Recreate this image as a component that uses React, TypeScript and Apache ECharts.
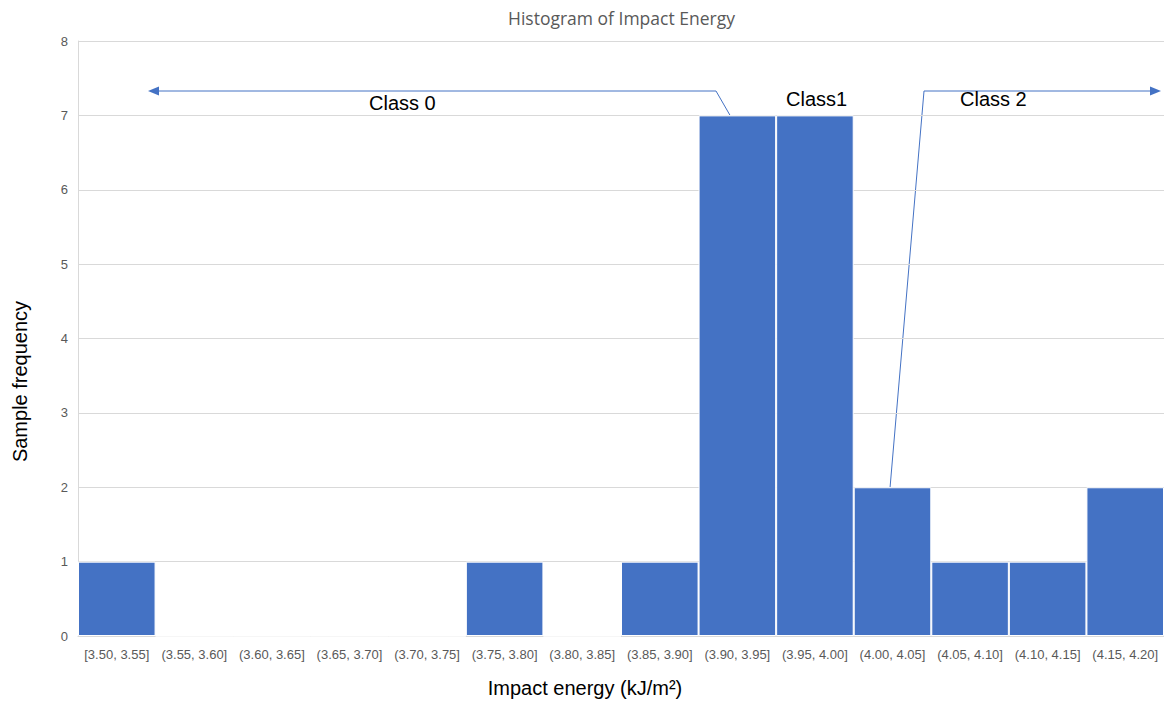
import React, { useEffect, useRef } from "react";
import * as echarts from "echarts";

// Histogram bins (kJ/m²) and the number of samples in each
const binLabels = [
  "[3.50, 3.55]",
  "(3.55, 3.60]",
  "(3.60, 3.65]",
  "(3.65, 3.70]",
  "(3.70, 3.75]",
  "(3.75, 3.80]",
  "(3.80, 3.85]",
  "(3.85, 3.90]",
  "(3.90, 3.95]",
  "(3.95, 4.00]",
  "(4.00, 4.05]",
  "(4.05, 4.10]",
  "(4.10, 4.15]",
  "(4.15, 4.20]",
];
const frequencies = [1, 0, 0, 0, 0, 1, 0, 1, 7, 7, 2, 1, 1, 2];
const yTicks = [0, 1, 2, 3, 4, 5, 6, 7, 8];

const BAR_COLOR = "#4472C4";
const LINE_COLOR = "#4472C4";
const SANS = "Liberation Sans, Arial, sans-serif";

export default function App() {
  const ref = useRef<HTMLDivElement>(null);

  useEffect(() => {
    if (!ref.current) return;
    const chart = echarts.init(ref.current, null, { renderer: "svg" });

    const arrowLine = { stroke: LINE_COLOR, lineWidth: 1, fill: null };
    const arrowHead = { fill: LINE_COLOR };
    const labelStyle = { fill: "#000000", fontSize: 20, fontFamily: SANS };

    chart.setOption({
      animation: false,
      backgroundColor: "#ffffff",
      title: {
        text: "Histogram of Impact Energy",
        left: 503,
        top: 4,
        textStyle: {
          color: "#595959",
          fontSize: 17.5,
          fontWeight: "normal",
          fontFamily: "Open Sans, Noto Sans, sans-serif",
        },
      },
      grid: { left: 78, right: 0, top: 41, bottom: 67, containLabel: false },
      xAxis: {
        type: "category",
        data: binLabels,
        name: "Impact energy (kJ/m²)",
        nameLocation: "middle",
        nameGap: 42,
        nameTextStyle: {
          color: "#000000",
          fontSize: 20,
          fontFamily: SANS,
          padding: [0, 72, 0, 0],
        },
        axisLine: { show: true, lineStyle: { color: "#d9d9d9", width: 1 } },
        axisTick: { show: false },
        axisLabel: {
          interval: 0,
          color: "#595959",
          fontSize: 13,
          margin: 12,
          fontFamily: SANS,
        },
      },
      yAxis: {
        type: "value",
        min: yTicks[0],
        max: yTicks[yTicks.length - 1],
        interval: 1,
        name: "Sample frequency",
        nameLocation: "middle",
        nameGap: 48,
        nameTextStyle: {
          color: "#000000",
          fontSize: 20,
          fontFamily: SANS,
          padding: [0, 86, 0, 0],
        },
        axisLine: { show: true, lineStyle: { color: "#d9d9d9", width: 1 } },
        axisTick: { show: false },
        splitLine: { show: true, lineStyle: { color: "#d9d9d9", width: 1 } },
        axisLabel: {
          color: "#595959",
          fontSize: 13,
          margin: 10,
          fontFamily: SANS,
        },
      },
      series: [
        {
          type: "bar",
          data: frequencies,
          barCategoryGap: "0%",
          itemStyle: {
            color: BAR_COLOR,
            borderColor: "#ffffff",
            borderWidth: 1,
          },
        },
      ],
      graphic: [
        // Class 0 bracket: leader from the (3.90, 3.95] bar, arrow pointing left
        {
          type: "polyline",
          shape: { points: [[731, 117], [716, 91], [156, 91]] },
          style: arrowLine,
          silent: true,
        },
        {
          type: "polygon",
          shape: { points: [[148, 91], [159, 86.5], [159, 95.5]] },
          style: arrowHead,
          silent: true,
        },
        {
          type: "text",
          left: 369,
          top: 93,
          style: { ...labelStyle, text: "Class 0" },
          silent: true,
        },
        {
          type: "text",
          left: 786,
          top: 89,
          style: { ...labelStyle, text: "Class1" },
          silent: true,
        },
        // Class 2 bracket: leader from the (4.00, 4.05] bar, arrow pointing right
        {
          type: "polyline",
          shape: { points: [[890, 488], [924, 91], [1153, 91]] },
          style: arrowLine,
          silent: true,
        },
        {
          type: "polygon",
          shape: { points: [[1161, 91], [1150, 86.5], [1150, 95.5]] },
          style: arrowHead,
          silent: true,
        },
        {
          type: "text",
          left: 960,
          top: 89,
          style: { ...labelStyle, text: "Class 2" },
          silent: true,
        },
      ],
    });

    return () => chart.dispose();
  }, []);

  return (
    <div
      ref={ref}
      style={{ position: "fixed", left: 0, top: 0, width: 1164, height: 703 }}
    />
  );
}
